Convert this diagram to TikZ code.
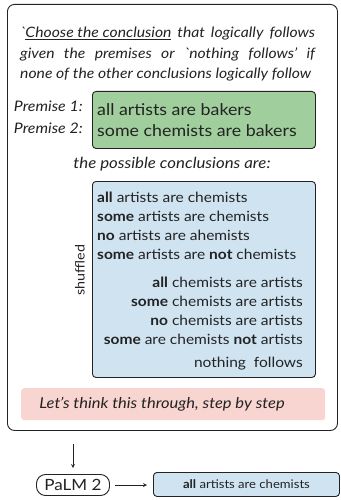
\documentclass[tikz,border=0pt]{standalone}
\usepackage{fontspec}
\setmainfont{Lato}[FakeStretch=1.1]
\usetikzlibrary{positioning}
\definecolor{premgreen}{RGB}{160,206,156}
\definecolor{optblue}{RGB}{207,227,241}
\definecolor{cotpink}{RGB}{249,213,209}
\definecolor{ink}{RGB}{35,35,35}

\begin{document}
\begin{tikzpicture}[
  x=1pt, y=-1pt,
  frame/.style={draw, rounded corners=7pt, line width=0.9pt, anchor=north west, inner sep=0pt},
  boxed/.style={draw, rounded corners=3.5pt, line width=0.9pt, anchor=north west, inner sep=0pt},
  task/.style={font=\fontsize{14.3}{20.3}\selectfont\itshape, text width=295pt, align=justify, inner sep=0pt, anchor=north west},
  premlabel/.style={font=\fontsize{14.5}{16}\selectfont\itshape, inner sep=0pt, anchor=east},
  optlist/.style={font=\fontsize{14.1}{18.8}\selectfont, inner sep=0pt},
  >=stealth
]
\useasboundingbox (0,0) rectangle (340,500);
\color{ink}

% Prompt frame
\node[frame, minimum width=330pt, minimum height=426pt] (prompt) at (7,4) {};
\node[task] (task) at (20,27) {\parfillskip=0pt \textasciigrave\underline{Choose the conclusion} that logically follows\linebreak given the premises or \textasciigrave nothing follows’ if\linebreak none of the other conclusions logically follow};

% Premises
\node[boxed, fill=premgreen, minimum width=223pt, minimum height=57pt] (premises) at (92,91) {};
\node[font=\fontsize{16.2}{21}\selectfont, align=left, inner sep=0pt, anchor=west] (premtext) at ([xshift=5pt]premises.west) {all artists are bakers\\some chemists are bakers};
\node[premlabel] (prem1) at (83,106) {Premise 1:};
\node[premlabel] (prem2) at (83,128) {Premise 2:};

% Conclusions
\node[font=\fontsize{15.3}{16}\selectfont\itshape, inner sep=0pt] (possible) at (172,164) {the possible conclusions are:};
\node[boxed, fill=optblue, minimum width=223pt, minimum height=196pt] (options) at (92,181) {};
\node[optlist, align=left, anchor=north west] (fwd) at (97,192) {\textbf{all} artists are chemists\\\textbf{some} artists are chemists\\\textbf{no} artists are ahemists\\\textbf{some} artists are \textbf{not} chemists};
\node[optlist, align=right, anchor=north east] (rev) at (303,277) {\textbf{all} chemists are artists\\\textbf{some} chemists are artists\\\textbf{no} chemists are artists\\\textbf{some} are chemists \textbf{not} artists};
\node[optlist, anchor=north east] (none) at (303,357) {nothing\ \ follows};
\node[font=\fontsize{13}{15}\selectfont, rotate=90, inner sep=0pt] (shuffled) at (80,270) {shuffled};

% Chain of thought
\node[fill=cotpink, rounded corners=3pt, minimum width=304pt, minimum height=32pt, anchor=north west, inner sep=0pt] (cot) at (21,388) {};
\node[font=\fontsize{15}{16}\selectfont\itshape, inner sep=0pt] (cottext) at (162,404) {Let’s think this through, step by step};

% Model and answer
\node[draw, rounded corners=9pt, line width=0.9pt, minimum width=73pt, minimum height=21pt, inner sep=0pt, font=\fontsize{15.5}{16}\selectfont] (palm) at (73,485) {PaLM 2};
\node[boxed, fill=optblue, minimum width=186pt, minimum height=24pt, font=\fontsize{11.9}{13}\selectfont] (answer) at (153,472) {\textbf{all} artists are chemists};

\draw[->, line width=0.8pt, shorten <=13pt, shorten >=6pt] (palm |- prompt.south) -- (palm.north);
\draw[->, line width=0.8pt, shorten <=5pt, shorten >=6pt] (palm.east) -- (answer.west |- palm.east);
\end{tikzpicture}
\end{document}
